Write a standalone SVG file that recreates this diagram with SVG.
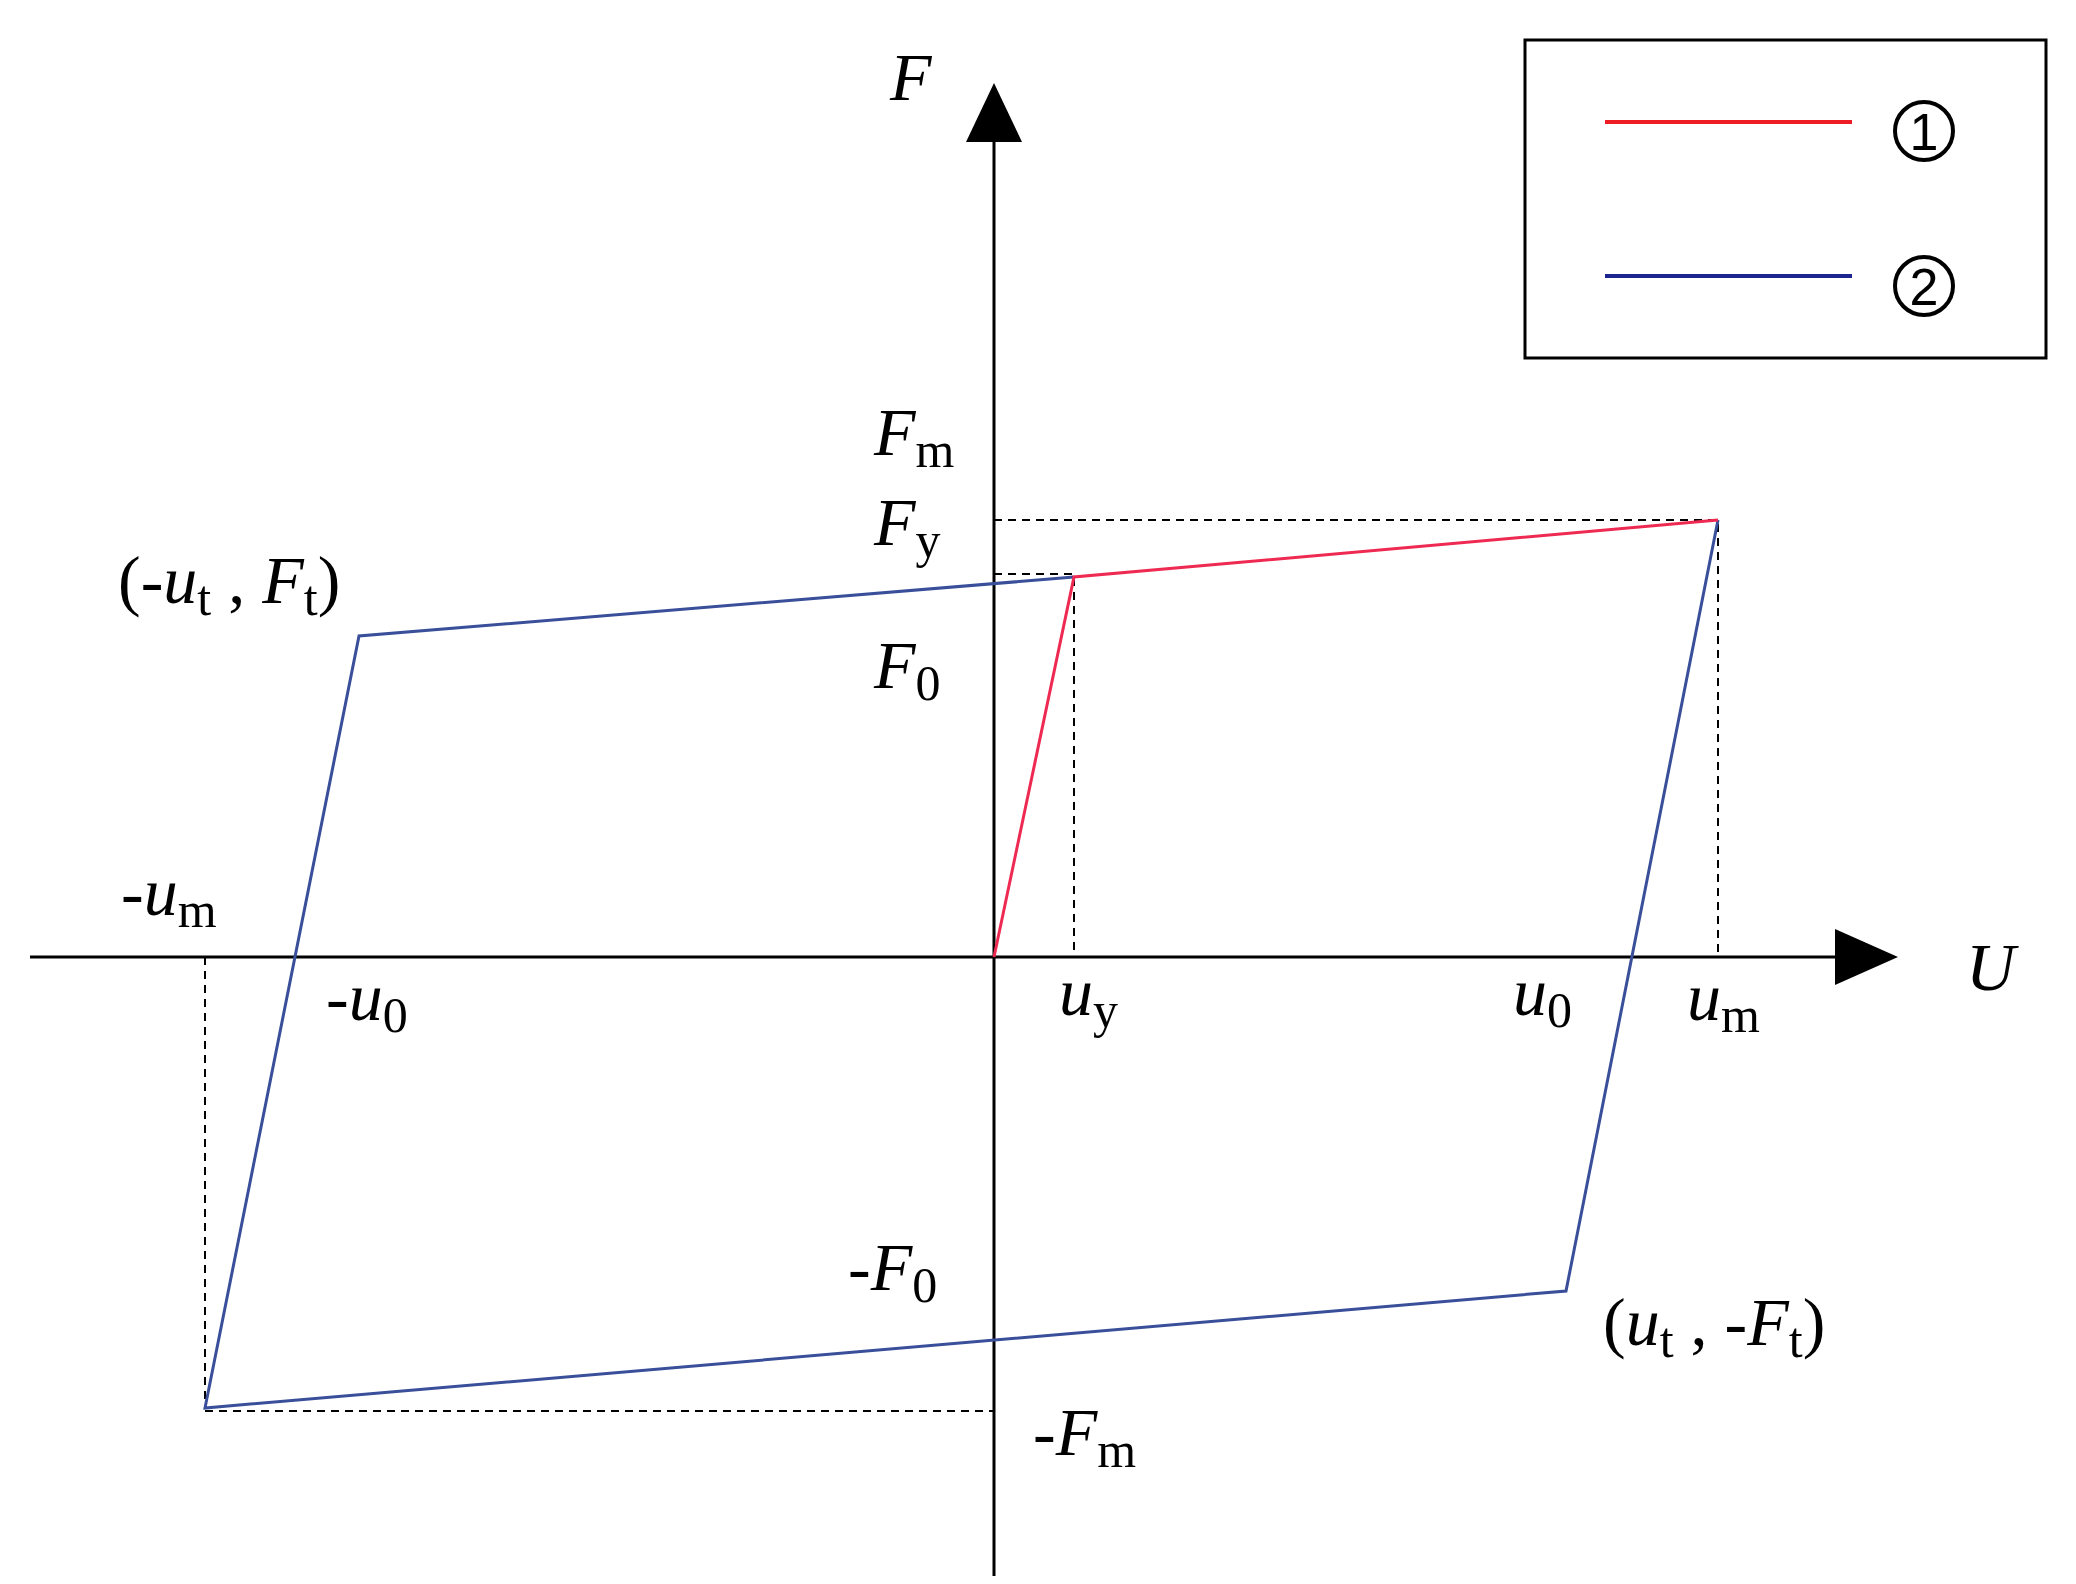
<svg xmlns="http://www.w3.org/2000/svg" width="2076" height="1584" viewBox="0 0 2076 1584">
<style>
text{font-family:"Liberation Serif","Times New Roman",serif;font-size:68px;fill:#000}
.i{font-style:italic}
.s{font-size:50px;font-style:normal}
.dash{stroke:#000;stroke-width:2;stroke-dasharray:8 6;fill:none}
</style>
<rect width="2076" height="1584" fill="#fff"/>
<g id="axes">
<line x1="994" y1="1576" x2="994" y2="135" stroke="#000" stroke-width="3"/>
<polygon points="994,83 966,142 1022,142" fill="#000"/>
<line x1="30" y1="957" x2="1840" y2="957" stroke="#000" stroke-width="3"/>
<polygon points="1898,957 1835,929 1835,985" fill="#000"/>
</g>
<g id="connectors">
<path class="dash" d="M994,520H1718V957M994,574H1074V957M205,957V1408M205,1411H994"/>
<polyline points="1718,520 1566,1291 205,1408 359,636 1074,577" fill="none" stroke="#3a4f9a" stroke-width="3"/>
<polyline points="994,957 1074,577 1718,520" fill="none" stroke="#ee2a52" stroke-width="3"/>
</g>
<g id="legend">
<rect x="1525" y="40" width="521" height="318" fill="none" stroke="#000" stroke-width="3"/>
<line x1="1605" y1="122" x2="1852" y2="122" stroke="#ee1c24" stroke-width="4"/>
<line x1="1605" y1="276" x2="1852" y2="276" stroke="#1c2490" stroke-width="4"/>
<circle cx="1924" cy="131" r="29" fill="none" stroke="#000" stroke-width="4"/>
<text x="1924" y="150" text-anchor="middle" font-size="52" style="font-family:'Liberation Sans',sans-serif;font-size:52px">1</text>
<circle cx="1924" cy="286" r="29" fill="none" stroke="#000" stroke-width="4"/>
<text x="1924" y="305" text-anchor="middle" style="font-family:'Liberation Sans',sans-serif;font-size:52px">2</text>
</g>
<g id="labels">
<text x="890" y="100" class="i">F</text>
<text x="874" y="455" class="i">F<tspan class="s" dy="12">m</tspan></text>
<text x="874" y="545" class="i">F<tspan class="s" dy="12">y</tspan></text>
<text x="874" y="688" class="i">F<tspan class="s" dy="12">0</tspan></text>
<text x="118" y="603">(-<tspan class="i">u</tspan><tspan class="s" dy="12">t</tspan><tspan dy="-12"> , </tspan><tspan class="i">F</tspan><tspan class="s" dy="12">t</tspan><tspan dy="-12">)</tspan></text>
<text x="121" y="915">-<tspan class="i">u</tspan><tspan class="s" dy="12">m</tspan></text>
<text x="326" y="1020">-<tspan class="i">u</tspan><tspan class="s" dy="12">0</tspan></text>
<text x="1059" y="1015" class="i">u<tspan class="s" dy="12">y</tspan></text>
<text x="1513" y="1015" class="i">u<tspan class="s" dy="12">0</tspan></text>
<text x="1687" y="1020" class="i">u<tspan class="s" dy="12">m</tspan></text>
<text x="1966" y="990" class="i">U</text>
<text x="848" y="1290">-<tspan class="i">F</tspan><tspan class="s" dy="12">0</tspan></text>
<text x="1603" y="1345">(<tspan class="i">u</tspan><tspan class="s" dy="12">t</tspan><tspan dy="-12"> , -</tspan><tspan class="i">F</tspan><tspan class="s" dy="12">t</tspan><tspan dy="-12">)</tspan></text>
<text x="1033" y="1455">-<tspan class="i">F</tspan><tspan class="s" dy="12">m</tspan></text>
</g>
</svg>
